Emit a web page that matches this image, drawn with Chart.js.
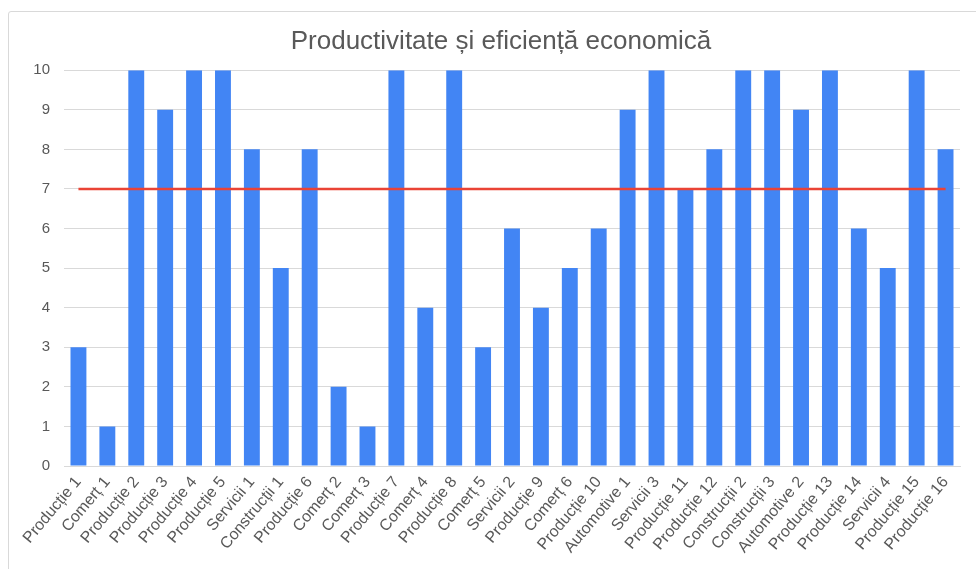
<!DOCTYPE html>
<html lang="ro">
<head>
<meta charset="utf-8">
<title>Productivitate și eficiență economică</title>
<script src="https://cdn.jsdelivr.net/npm/chart.js@4"></script>
<style>
    html, body { margin: 0; padding: 0; background: #ffffff; overflow: hidden; }
    #wrap { position: relative; width: 976px; height: 569px; }
    #frame {
        position: absolute; left: 8px; top: 11px; width: 980px; height: 580px;
        border: 1px solid #d9d9d9; border-radius: 3px; box-sizing: border-box;
    }
    #chart { position: absolute; left: 0; top: 0; }
</style>
</head>
<body>
<div id="wrap">
    <div id="frame"></div>
    <canvas id="chart" width="976" height="569"></canvas>
</div>
<script>
// categories on the x axis
const categories = [
    'Producție 1', 'Comerț 1', 'Producție 2', 'Producție 3', 'Producție 4', 'Producție 5',
    'Servicii 1', 'Construcții 1', 'Producție 6', 'Comerț 2', 'Comerț 3', 'Producție 7',
    'Comerț 4', 'Producție 8', 'Comerț 5', 'Servicii 2', 'Producție 9', 'Comerț 6',
    'Producție 10', 'Automotive 1', 'Servicii 3', 'Producție 11', 'Producție 12',
    'Construcții 2', 'Construcții 3', 'Automotive 2', 'Producție 13', 'Producție 14',
    'Servicii 4', 'Producție 15', 'Producție 16'
];

// productivity score per company
const scores = [3, 1, 10, 9, 10, 10, 8, 5, 8, 2, 1, 10, 4, 10, 3, 6, 4, 5, 6, 9, 10, 7, 8, 10, 10, 9, 10, 6, 5, 10, 8];

// reference threshold line
const threshold = [7, 7, 7, 7, 7, 7, 7, 7, 7, 7, 7, 7, 7, 7, 7, 7, 7, 7, 7, 7, 7, 7, 7, 7, 7, 7, 7, 7, 7, 7, 7];

// y axis range
const yMin = 0;
const yMax = 10;
const yStep = 1;

const fontFamily = '"Liberation Sans", Arial, sans-serif';
const textColor = '#595959';
const gridColor = '#d9d9d9';

// centre the title over the plot rather than over the whole canvas
const centerTitleOnPlot = {
    id: 'centerTitleOnPlot',
    afterLayout(chart) {
        const title = chart.titleBlock;
        if (!title) return;
        title.left = chart.chartArea.left - 22;
        title.right = chart.chartArea.right;
    }
};

new Chart(document.getElementById('chart').getContext('2d'), {
    data: {
        labels: categories,
        datasets: [
            {
                type: 'line',
                label: 'Prag',
                data: threshold,
                borderColor: '#ea4335',
                borderWidth: 2.5,
                pointRadius: 0,
                fill: false,
                order: 0
            },
            {
                type: 'bar',
                label: 'Scor',
                data: scores,
                backgroundColor: '#4285f4',
                borderWidth: 0,
                barPercentage: 0.55,
                categoryPercentage: 1,
                order: 1
            }
        ]
    },
    plugins: [centerTitleOnPlot],
    options: {
        responsive: false,
        animation: false,
        layout: { padding: { top: 12, left: 8, right: 16, bottom: 0 } },
        plugins: {
            legend: { display: false },
            tooltip: { enabled: false },
            title: {
                display: true,
                text: 'Productivitate și eficiență economică',
                color: textColor,
                font: { family: fontFamily, size: 26, weight: 'normal' },
                padding: { top: 14, bottom: 13 }
            }
        },
        scales: {
            x: {
                offset: true,
                grid: { display: false, drawTicks: false },
                border: { display: true, color: gridColor, width: 1 },
                ticks: {
                    autoSkip: false,
                    minRotation: 50,
                    maxRotation: 50,
                    padding: 7,
                    color: textColor,
                    font: { family: fontFamily, size: 16 }
                },
                afterFit: (axis) => { axis.height = 103; }
            },
            y: {
                min: yMin,
                max: yMax,
                grid: { color: gridColor, lineWidth: 1, drawTicks: false },
                border: { display: false },
                ticks: {
                    stepSize: yStep,
                    padding: 14,
                    color: textColor,
                    font: { family: fontFamily, size: 15 }
                },
                afterFit: (axis) => { axis.width = 56; }
            }
        }
    }
});
</script>
</body>
</html>
